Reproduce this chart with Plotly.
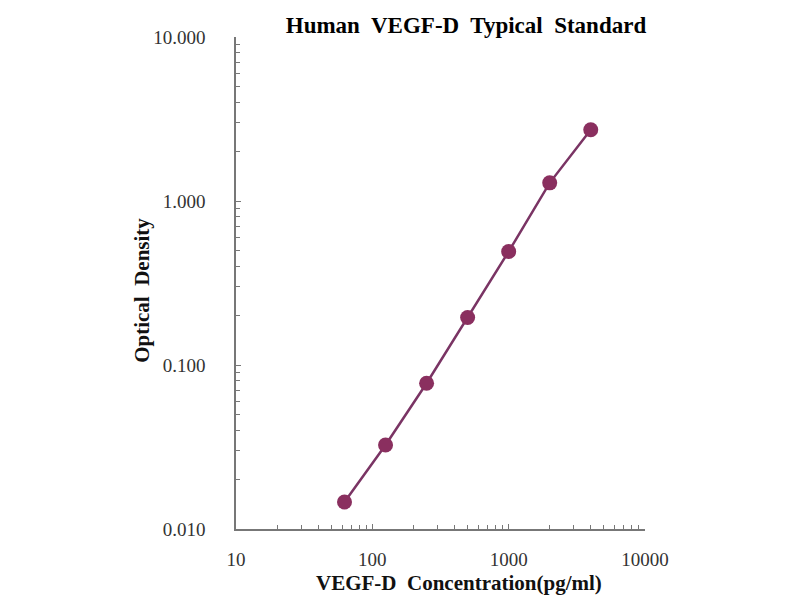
import plotly.graph_objects as go

# standard curve values
conc = [62.5, 125, 250, 500, 1000, 2000, 4000]
od = [0.0146, 0.0325, 0.0774, 0.195, 0.492, 1.29, 2.72]

y_ticks = [0.01, 0.1, 1, 10]
y_labels = ["0.010", "0.100", "1.000", "10.000"]
x_ticks = [10, 100, 1000, 10000]
x_labels = ["10", "100", "1000", "10000"]

serif = "Liberation Serif, Times New Roman, serif"
col = "#8a2f5f"

fig = go.Figure()
fig.add_trace(go.Scatter(
    x=conc, y=od, mode="lines+markers",
    line=dict(color="#7a3464", width=2.5),
    marker=dict(color=col, size=15),
    showlegend=False,
))

fig.update_layout(
    width=800, height=600,
    paper_bgcolor="white", plot_bgcolor="white",
    margin=dict(l=228, r=163, t=29, b=79),
    title=dict(text="<b>Human  VEGF-D  Typical  Standard</b>",
               x=0.5725, xanchor="center", y=0.985, yanchor="top",
               font=dict(family=serif, size=23, color="black")),
    font=dict(family=serif, color="#222"),
    annotations=[
        dict(text="<b>VEGF-D  Concentration(pg/ml)</b>", xref="paper", yref="paper",
             x=0.545, y=-0.11, xanchor="center", yanchor="middle", showarrow=False,
             font=dict(family=serif, size=21, color="#111")),
        dict(text="<b>Optical  Density</b>", xref="paper", yref="paper",
             x=-0.23, y=0.486, xanchor="center", yanchor="middle", showarrow=False,
             textangle=-90, font=dict(family=serif, size=21, color="#111")),
    ],
)

fig.update_xaxes(
    type="log", range=[1, 4],
    tickvals=x_ticks, ticktext=x_labels,
    showgrid=False, zeroline=False,
    showline=True, linecolor="#777", linewidth=1.5,
    ticks="inside", ticklen=5, tickcolor="#777",
    minor=dict(ticks="inside", ticklen=4, tickcolor="#777", dtick="D1", showgrid=False),
    ticklabelstandoff=12,
    tickfont=dict(family=serif, size=19, color="#333"),
)

fig.update_yaxes(
    type="log", range=[-2, 1],
    tickvals=y_ticks, ticktext=y_labels,
    showgrid=False, zeroline=False,
    showline=True, linecolor="#777", linewidth=1.5,
    ticks="inside", ticklen=5, tickcolor="#777",
    minor=dict(ticks="inside", ticklen=4, tickcolor="#777", dtick="D1", showgrid=False),
    ticklabelstandoff=25,
    tickfont=dict(family=serif, size=19, color="#333"),
)

fig.write_html("out.html")
